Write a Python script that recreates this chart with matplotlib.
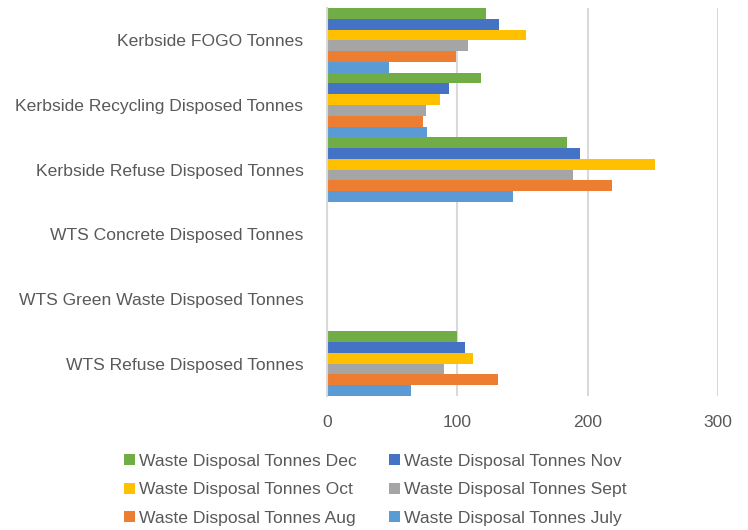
import matplotlib
matplotlib.use("Agg")
import matplotlib.pyplot as plt
import numpy as np
from matplotlib.patches import Patch

categories = ["Kerbside FOGO Tonnes", "Kerbside Recycling Disposed Tonnes",
              "Kerbside Refuse Disposed Tonnes", "WTS Concrete Disposed Tonnes",
              "WTS Green Waste Disposed Tonnes", "WTS Refuse Disposed Tonnes"]
series_names = ["Waste Disposal Tonnes Dec", "Waste Disposal Tonnes Nov",
                "Waste Disposal Tonnes Oct", "Waste Disposal Tonnes Sept",
                "Waste Disposal Tonnes Aug", "Waste Disposal Tonnes July"]
dec = [122, 118, 184, 0, 0, 100]
nov = [132, 93.5, 194, 0, 0, 106]
oct_ = [152.5, 86.5, 252, 0, 0, 112]
sept = [108, 76, 188.5, 0, 0, 90]
aug = [99, 73.5, 218.5, 0, 0, 131]
july = [47.5, 76.5, 142.5, 0, 0, 64.5]
series = [dec, nov, oct_, sept, aug, july]
colors = ["#70AD47", "#4472C4", "#FFC000", "#A5A5A5", "#ED7D31", "#5B9BD5"]
xticks = [0, 100, 200, 300]

plt.rcParams['font.family'] = ['Liberation Sans', 'DejaVu Sans']
txt = "#595959"
fs = 12.6

fig = plt.figure(figsize=(7.48, 5.30), dpi=100)
ax = fig.add_axes([327/748, 1-396/530, (718-327)/748, (396-8)/530])

n = len(series)
h = 1.0 / n
ypos = np.arange(len(categories))
for i, (vals, c, name) in enumerate(zip(series, colors, series_names)):
    ax.barh(ypos - 0.5 + h*(i+0.5), vals, height=h, color=c, label=name, linewidth=0)

ax.set_ylim(len(categories)-0.5, -0.5)
ax.set_xlim(0, 300)
ax.set_yticks(ypos)
ax.set_yticklabels(categories, fontsize=fs, color=txt)
ax.set_xticks(xticks)
ax.set_xticklabels([str(v) for v in xticks], fontsize=fs, color=txt)
ax.tick_params(axis='y', length=0, pad=17)
ax.tick_params(axis='x', length=0, pad=14)
for s in ['top', 'right', 'bottom']:
    ax.spines[s].set_visible(False)
ax.spines['left'].set_color('#D9D9D9')
ax.spines['left'].set_linewidth(1.5)
ax.xaxis.grid(True, color='#D9D9D9', linewidth=1.5)
ax.set_axisbelow(True)

order = [0, 2, 4, 1, 3, 5]
handles = [Patch(facecolor=colors[k], edgecolor='none') for k in order]
labels = [series_names[k] for k in order]
fig.legend(handles, labels, ncol=2, loc='upper left', bbox_to_anchor=(124/748, 1-454/530),
           frameon=False, fontsize=fs, labelcolor=txt, handlelength=0.6, handleheight=0.6,
           handletextpad=0.25, columnspacing=1.85, labelspacing=0.77, borderaxespad=0, borderpad=0)

fig.savefig("out.png", dpi=100)
